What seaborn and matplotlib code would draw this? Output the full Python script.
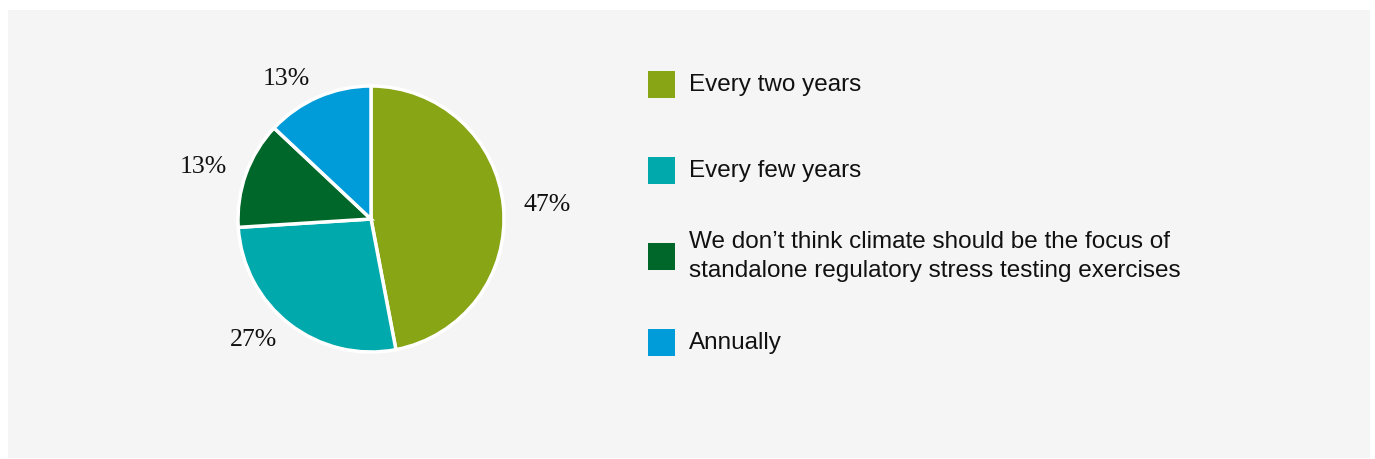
import matplotlib
matplotlib.use("Agg")
import matplotlib.pyplot as plt
from matplotlib.patches import Rectangle
import seaborn as sns

sns.set_theme(style="white")

categories = [
    "Every two years",
    "Every few years",
    "We don\u2019t think climate should be the focus of\nstandalone regulatory stress testing exercises",
    "Annually",
]
values = [47, 27, 13, 13]
colors = ["#87a515", "#00a9ab", "#00672b", "#009bd9"]

W, H = 1375, 459
fig = plt.figure(figsize=(W / 100, H / 100), dpi=100, facecolor="white")

# background layer: light grey panel plus the legend
leg = fig.add_axes([0, 0, 1, 1], zorder=0)
leg.set_xlim(0, W)
leg.set_ylim(H, 0)
leg.axis("off")
leg.add_patch(Rectangle((8, 10), 1362, 448, facecolor="#f5f5f5",
                        edgecolor="none", zorder=0))
for i, (cat, col) in enumerate(zip(categories, colors)):
    yc = 84.5 + 86 * i
    leg.add_patch(Rectangle((648, yc - 13.5), 27, 27, facecolor=col,
                            edgecolor="none", zorder=2))
    leg.text(689, yc, cat, va="center", ha="left", fontsize=17.5,
             family="Liberation Sans", color="#111111", linespacing=1.45,
             zorder=2)

side = 399
ax = fig.add_axes([(371 - side / 2) / W, (240 - side / 2) / H, side / W, side / H],
                  zorder=1)
ax.set_facecolor("none")
wedges, texts = ax.pie(
    values,
    colors=colors,
    startangle=90,
    counterclock=False,
    labels=[f"{v}%" for v in values],
    labeldistance=1.15,
    wedgeprops=dict(edgecolor="white", linewidth=2.5),
    textprops=dict(fontsize=18.5, family="Liberation Serif", color="#111111"),
)
ax.set_xlim(-1.5, 1.5)
ax.set_ylim(-1.5, 1.5)
ax.set_aspect("equal")
ax.axis("off")

fig.savefig("out.png", dpi=100, facecolor="white")
